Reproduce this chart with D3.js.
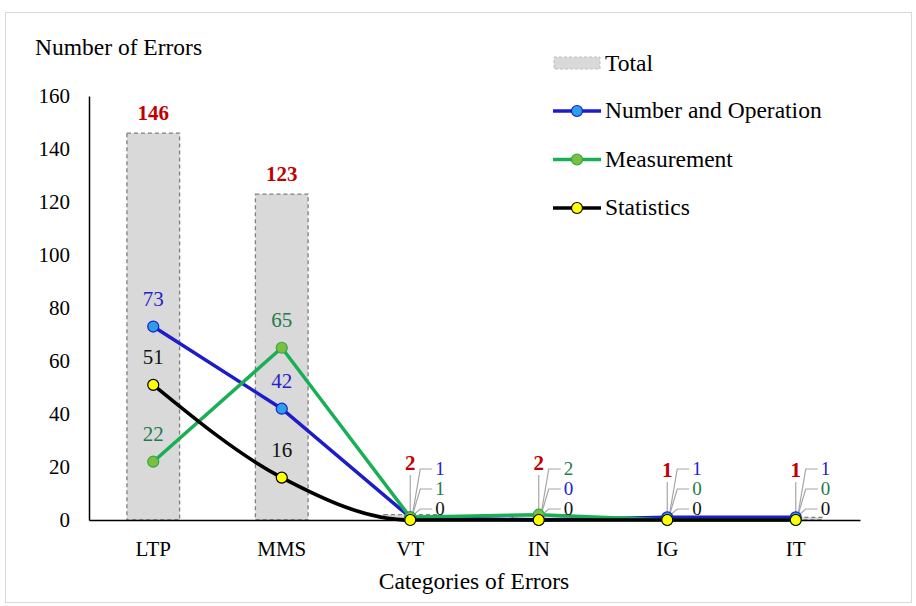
<!DOCTYPE html>
<html>
<head>
<meta charset="utf-8">
<script src="https://cdn.jsdelivr.net/npm/d3@7"></script>
<style>
  body { margin: 0; background: #fff; }
  svg text { font-family: "Liberation Serif", "Times New Roman", serif; }
</style>
</head>
<body>
<div id="chart"></div>
<script>
// data
var categories = ['LTP', 'MMS', 'VT', 'IN', 'IG', 'IT'];
var totalValues = [146, 123, 2, 2, 1, 1];
var numberOpValues = [73, 42, 1, 0, 1, 1];
var measurementValues = [22, 65, 1, 2, 0, 0];
var statisticsValues = [51, 16, 0, 0, 0, 0];
var yTicks = [0, 20, 40, 60, 80, 100, 120, 140, 160];

var series = [
  {name: 'Number and Operation', values: numberOpValues, line: '#1c1cc8', fill: '#2aa0ea', stroke: '#1c1cc8', text: '#2323c8'},
  {name: 'Measurement', values: measurementValues, line: '#1aae55', fill: '#7cbf3e', stroke: '#2fa84a', text: '#1e7b4c'},
  {name: 'Statistics', values: statisticsValues, line: '#000000', fill: '#ffff00', stroke: '#000000', text: '#111111', smooth: true}
];

var W = 916, H = 606;
var margin = {top: 96, right: 56, bottom: 86, left: 89};
var fontSize = 21, titleSize = 23.5, smallSize = 19;

var svg = d3.select('#chart').append('svg')
    .attr('width', W)
    .attr('height', H);

// frame
svg.append('rect')
    .attr('x', 5.5).attr('y', 12.5)
    .attr('width', 906).attr('height', 590)
    .attr('fill', '#fff')
    .attr('stroke', '#d9d9d9');

var x = d3.scaleBand()
    .domain(categories)
    .range([margin.left, W - margin.right]);

var y = d3.scaleLinear()
    .domain([0, 160])
    .range([H - margin.bottom, margin.top]);

var cx = function(d) { return x(d) + x.bandwidth() / 2; };
var barW = x.bandwidth() * 0.41;

// bars (Total)
svg.selectAll('.bar')
  .data(totalValues)
  .enter().append('rect')
    .attr('x', function(d, i) { return cx(categories[i]) - barW / 2; })
    .attr('y', function(d) { return y(d); })
    .attr('width', barW)
    .attr('height', function(d) { return y(0) - y(d); })
    .attr('fill', '#d9d9d9')
    .attr('stroke', '#7f7f7f')
    .attr('stroke-width', 1.3)
    .attr('stroke-dasharray', '4,3');

// axes
var yAxis = svg.append('g')
    .attr('transform', 'translate(' + margin.left + ',0)')
    .call(d3.axisLeft(y).tickValues(yTicks).tickSize(0).tickPadding(19));
yAxis.select('.domain').attr('stroke', '#000').attr('stroke-width', 1.5);
yAxis.selectAll('text').attr('font-size', fontSize).attr('fill', '#000')
    .style('font-family', '"Liberation Serif", serif');

var xAxis = svg.append('g')
    .attr('transform', 'translate(0,' + y(0) + ')')
    .call(d3.axisBottom(x).tickSize(0).tickPadding(21));
xAxis.select('.domain').attr('stroke', '#000').attr('stroke-width', 1.5);
xAxis.selectAll('text').attr('font-size', fontSize).attr('fill', '#000')
    .style('font-family', '"Liberation Serif", serif');

// axis titles
svg.append('text')
    .attr('x', 35).attr('y', 55)
    .attr('font-size', titleSize)
    .text('Number of Errors');
svg.append('text')
    .attr('x', 474).attr('y', 589)
    .attr('text-anchor', 'middle')
    .attr('font-size', titleSize)
    .text('Categories of Errors');

// lines
series.forEach(function(s) {
  var line = d3.line()
      .x(function(d, i) { return cx(categories[i]); })
      .y(function(d) { return y(d); })
      .curve(s.smooth ? d3.curveMonotoneX : d3.curveLinear);
  svg.append('path')
      .datum(s.values)
      .attr('d', line)
      .attr('fill', 'none')
      .attr('stroke', s.line)
      .attr('stroke-width', 3.5);
});

// leader lines and small labels for small categories
categories.forEach(function(c, i) {
  if (totalValues[i] > 10) return;
  var px = cx(c), py = y(0);
  var order = series.slice().sort(function(a, b) { return b.values[i] - a.values[i]; });
  order.forEach(function(s, k) {
    var ly = py - 51 + k * 20;
    svg.append('polyline')
        .attr('points', [[px + 2, py - 4], [px + 10, ly], [px + 22, ly]].join(' '))
        .attr('fill', 'none')
        .attr('stroke', '#a6a6a6')
        .attr('stroke-width', 1.2);
    svg.append('text')
        .attr('x', px + 25).attr('y', ly + 6)
        .attr('font-size', smallSize)
        .attr('fill', s.text)
        .text(s.values[i]);
  });
  // total leader
  svg.append('line')
      .attr('x1', px).attr('x2', px)
      .attr('y1', y(0) - (totalValues[i] > 1 ? 45 : 38)).attr('y2', y(0) - 3)
      .attr('stroke', '#a6a6a6')
      .attr('stroke-width', 1.2);
});

// markers
series.forEach(function(s) {
  svg.selectAll('.m')
    .data(s.values)
    .enter().append('circle')
      .attr('cx', function(d, i) { return cx(categories[i]); })
      .attr('cy', function(d) { return y(d); })
      .attr('r', 5.5)
      .attr('fill', s.fill)
      .attr('stroke', s.stroke)
      .attr('stroke-width', 1.2);
});

// value labels for large categories
series.forEach(function(s) {
  s.values.forEach(function(v, i) {
    if (totalValues[i] <= 10) return;
    svg.append('text')
        .attr('x', cx(categories[i]))
        .attr('y', y(v) - 21)
        .attr('text-anchor', 'middle')
        .attr('font-size', fontSize)
        .attr('fill', s.text)
        .text(v);
  });
});

// total labels
totalValues.forEach(function(v, i) {
  var ty = v > 10 ? y(v) - 13 : y(0) - (v > 1 ? 50 : 43);
  svg.append('text')
      .attr('x', cx(categories[i]))
      .attr('y', ty)
      .attr('text-anchor', 'middle')
      .attr('font-size', fontSize)
      .attr('font-weight', 'bold')
      .attr('fill', '#c00000')
      .text(v);
});

// legend
var legend = svg.append('g').attr('transform', 'translate(553,0)');
legend.append('rect')
    .attr('x', 1).attr('y', 57)
    .attr('width', 46).attr('height', 12)
    .attr('fill', '#d9d9d9')
    .attr('stroke', '#bfbfbf')
    .attr('stroke-dasharray', '3,2');
legend.append('text')
    .attr('x', 52).attr('y', 71)
    .attr('font-size', titleSize)
    .text('Total');
series.forEach(function(s, k) {
  var ly = 111 + k * 48.5;
  legend.append('line')
      .attr('x1', 0).attr('x2', 48)
      .attr('y1', ly).attr('y2', ly)
      .attr('stroke', s.line)
      .attr('stroke-width', 3.5);
  legend.append('circle')
      .attr('cx', 24).attr('cy', ly)
      .attr('r', 5.5)
      .attr('fill', s.fill)
      .attr('stroke', s.stroke)
      .attr('stroke-width', 1.2);
  legend.append('text')
      .attr('x', 52).attr('y', ly + 7)
      .attr('font-size', titleSize)
      .text(s.name);
});
</script>
</body>
</html>
